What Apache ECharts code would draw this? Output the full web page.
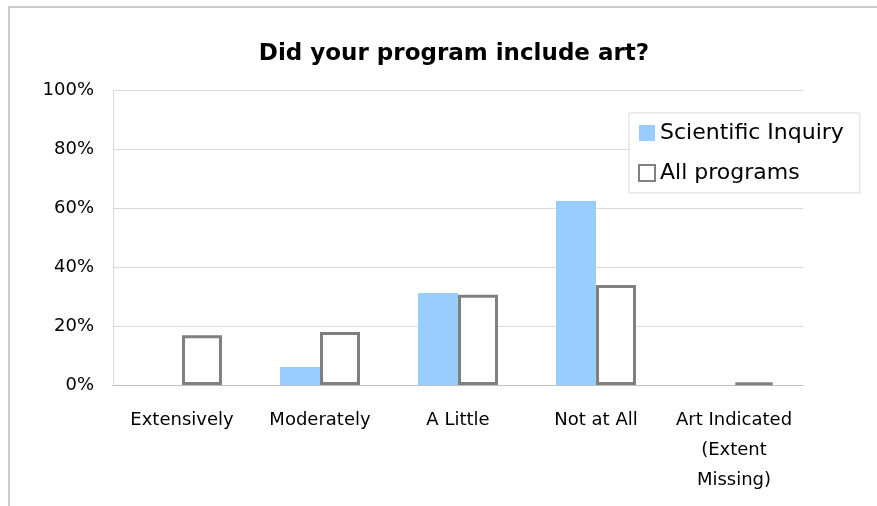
<!DOCTYPE html>
<html>
<head>
<meta charset="utf-8">
<script src="https://cdn.jsdelivr.net/npm/echarts@6/dist/echarts.min.js"></script>
<style>html,body{margin:0;padding:0;background:#fff}#c{width:877px;height:506px}</style>
</head>
<body>
<div id="c"></div>
<script>
var categories = ["Extensively", "Moderately", "A Little", "Not at All", "Art Indicated\n(Extent\nMissing)"];
var scientificInquiry = [0, 6.1, 31.2, 62.4, 0];
var allPrograms = [16.9, 18.0, 30.6, 33.9, 0.9];
var yTicks = [0, 20, 40, 60, 80, 100];

var chart = echarts.init(document.getElementById('c'), null, {renderer: 'canvas'});
var font = 'DejaVu Sans';
chart.setOption({
  backgroundColor: '#fff',
  animation: false,
  graphic: [{
    type: 'rect', silent: true, z: -1,
    shape: {x: 9, y: 7, width: 1000, height: 700},
    style: {fill: 'none', stroke: '#cccccc', lineWidth: 2}
  }],
  title: {
    text: 'Did your program include art?',
    left: 449, top: 38, textAlign: 'center',
    textStyle: {fontFamily: font, fontWeight: 'bold', fontSize: 23, color: '#000'}
  },
  legend: {
    orient: 'vertical', left: 629, top: 113,
    backgroundColor: '#fff', borderColor: '#d9d9d9', borderWidth: 1,
    padding: [9, 16, 9, 9], itemGap: 18,
    itemWidth: 16, itemHeight: 16, icon: 'rect',
    textStyle: {fontFamily: font, fontSize: 22, color: '#000'},
    data: ['Scientific Inquiry', 'All programs']
  },
  grid: {left: 113, right: 74, top: 90, bottom: 121, containLabel: false},
  xAxis: {
    type: 'category', data: categories,
    axisLine: {lineStyle: {color: '#bfbfbf', width: 1}},
    axisTick: {show: false},
    axisLabel: {fontFamily: font, fontSize: 18, color: '#000', margin: 20, lineHeight: 30, interval: 0}
  },
  yAxis: {
    type: 'value', min: 0, max: 100, interval: 20,
    axisLine: {show: true, lineStyle: {color: '#d9d9d9'}},
    axisTick: {show: false},
    splitLine: {lineStyle: {color: '#d9d9d9'}},
    axisLabel: {
      fontFamily: font, fontSize: 18, color: '#000', margin: 19,
      formatter: function (v) { return yTicks.indexOf(v) >= 0 ? v + '%' : ''; }
    }
  },
  series: [{
    name: 'Scientific Inquiry', type: 'bar', data: scientificInquiry,
    barWidth: 40, barGap: '0%',
    itemStyle: {color: '#99ccff'}
  }, {
    name: 'All programs', type: 'bar', data: allPrograms,
    barWidth: 40, barGap: '0%',
    itemStyle: {color: '#ffffff', borderColor: '#808080', borderWidth: 3}
  }]
});
</script>
</body>
</html>
